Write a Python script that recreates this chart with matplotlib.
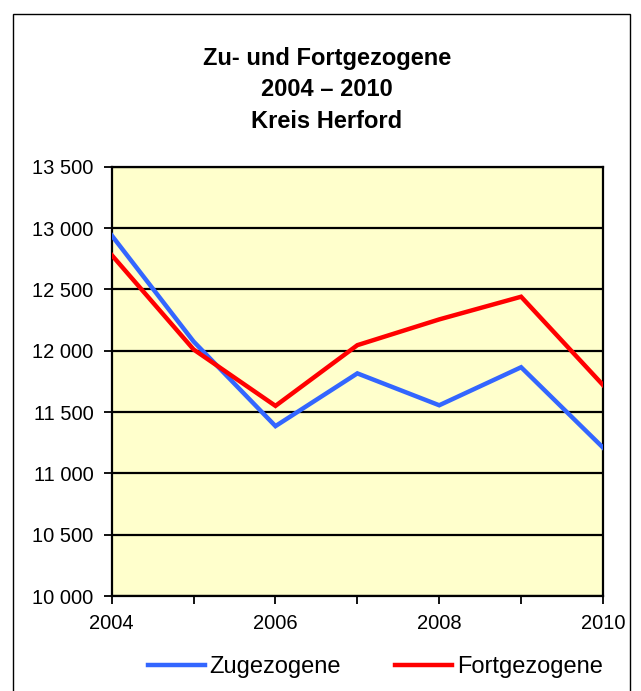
import matplotlib
matplotlib.use("Agg")
import matplotlib.pyplot as plt
from matplotlib.patches import Rectangle
from matplotlib.ticker import FuncFormatter, MultipleLocator

years = [2004, 2005, 2006, 2007, 2008, 2009, 2010]
zugezogene = [12940, 12075, 11385, 11815, 11555, 11865, 11210]
fortgezogene = [12780, 12010, 11550, 12045, 12255, 12440, 11720]
series_names = ["Zugezogene", "Fortgezogene"]
title_text = "Zu- und Fortgezogene\n2004 \u2013 2010\nKreis Herford"

plt.rcParams['font.family'] = ['Liberation Sans', 'DejaVu Sans']

W, H = 641, 691
fig = plt.figure(figsize=(W / 100, H / 100), dpi=100)
fig.patch.set_facecolor("white")

# outer chart border
fig.patches.append(Rectangle((12.5 / W, -0.05), (630 - 12.5) / W, 1 - 14 / H + 0.05,
                             transform=fig.transFigure, fill=False,
                             edgecolor="black", linewidth=1.0))

left, right = 111.7 / W, 603 / W
top, bottom = 1 - 166.7 / H, 1 - 596 / H
ax = fig.add_axes([left, bottom, right - left, top - bottom])
ax.set_facecolor("#FFFFCC")

ax.plot(years, zugezogene, color="#3366FF", linewidth=3.2, label=series_names[0],
        solid_joinstyle="miter", zorder=3)
ax.plot(years, fortgezogene, color="#FF0000", linewidth=3.2, label=series_names[1],
        solid_joinstyle="miter", zorder=3)

ax.set_xlim(2004, 2010)
ax.set_ylim(10000, 13500)
ax.yaxis.set_major_locator(MultipleLocator(500))
ax.xaxis.set_major_locator(MultipleLocator(1))
ax.yaxis.set_major_formatter(FuncFormatter(lambda v, p: f"{int(v):,}".replace(",", " ")))
ax.xaxis.set_major_formatter(FuncFormatter(lambda v, p: f"{int(v)}" if int(v) % 2 == 0 else ""))

ax.grid(axis="y", color="black", linewidth=1.6, zorder=1)
ax.set_axisbelow(True)
for s in ax.spines.values():
    s.set_linewidth(1.6)
    s.set_color("black")

ax.tick_params(axis="both", direction="out", length=6, width=1.3, labelsize=14.5,
               colors="black")
ax.tick_params(axis="x", pad=7)
ax.tick_params(axis="y", pad=7)

fig.text(327 / W, 1 - 90 / H, title_text, ha="center", va="center",
         multialignment="center", fontsize=17, fontweight="bold", linespacing=1.5)

fig.legend(loc="center", bbox_to_anchor=(375.5 / W, 1 - 667 / H), ncol=2,
           frameon=False, fontsize=17, handlelength=2.4, handletextpad=0.2,
           columnspacing=2.3)

fig.savefig("out.png", dpi=100)
